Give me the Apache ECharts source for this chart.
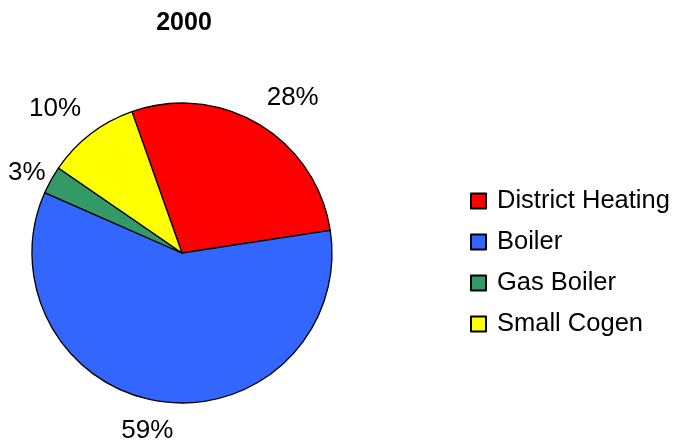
<!DOCTYPE html>
<html>
<head>
<meta charset="utf-8">
<script src="https://cdn.jsdelivr.net/npm/echarts@6/dist/echarts.min.js"></script>
<style>
  html, body { margin: 0; padding: 0; background: #fff; }
  #main { width: 673px; height: 445px; }
</style>
</head>
<body>
<div id="main"></div>
<script>
var categories = ['District Heating', 'Boiler', 'Gas Boiler', 'Small Cogen'];
var shares = [28, 59, 3, 10];
var colors = ['#ff0000', '#3366ff', '#339966', '#ffff00'];

var font = 'Liberation Sans, Arial, sans-serif';
var cx = 182, cy = 253, R = 150, startAngle = 109.5, gap = 20;

// mid angle of each slice (degrees, counter-clockwise from 3 o'clock)
var total = shares.reduce(function (a, b) { return a + b; }, 0);
var midAngles = [];
var acc = 0;
shares.forEach(function (v) {
    midAngles.push(startAngle - (acc + v / 2) / total * 360);
    acc += v;
});

var chart = echarts.init(document.getElementById('main'));
chart.setOption({
    animation: false,
    title: {
        text: '2000',
        left: 179,
        top: 6,
        textAlign: 'center',
        textStyle: { fontFamily: font, fontSize: 25, fontWeight: 'bold', color: '#000' }
    },
    legend: {
        orient: 'vertical',
        left: 470,
        top: 188,
        padding: 0,
        itemWidth: 15,
        itemHeight: 15,
        itemGap: 15,
        icon: 'rect',
        textStyle: { fontFamily: font, fontSize: 25.5, color: '#000', lineHeight: 26, padding: [0, 0, 0, 6] },
        data: categories
    },
    series: [{
        type: 'pie',
        center: [cx, cy],
        radius: R,
        startAngle: startAngle,
        clockwise: true,
        avoidLabelOverlap: false,
        itemStyle: { borderColor: '#000', borderWidth: 1.3 },
        emphasis: { disabled: true },
        label: {
            show: true,
            position: 'outside',
            formatter: '{c}%',
            overflow: 'none',
            fontFamily: font,
            fontSize: 26,
            color: '#000'
        },
        labelLine: { show: false },
        labelLayout: function (p) {
            // Excel-like "outside end": box pushed off the rim along the slice's mid angle
            var a = midAngles[p.dataIndex] * Math.PI / 180;
            var ux = Math.cos(a), uy = -Math.sin(a);
            var w = p.labelRect.width / 2, h = 9;
            var fx = Math.min(0.9, Math.abs(ux) * 3.7), fy = Math.min(1, Math.abs(uy) * 3.7);
            var x = cx + ux * (R + gap) + (ux < 0 ? -1 : 1) * w * fx;
            var y = cy + uy * (R + gap) + (uy < 0 ? -1 : 1) * h * fy;
            if (x - w < 8) {
                var shift = 8 + w - x;
                x += shift;
                y += shift * Math.abs(uy / ux) * (uy < 0 ? 1 : -1) + 6;
            }
            return { x: x, y: y, align: 'center', verticalAlign: 'middle', hideOverlap: false };
        },
        data: categories.map(function (name, i) {
            return { name: name, value: shares[i], itemStyle: { color: colors[i] } };
        })
    }]
});
</script>
</body>
</html>
